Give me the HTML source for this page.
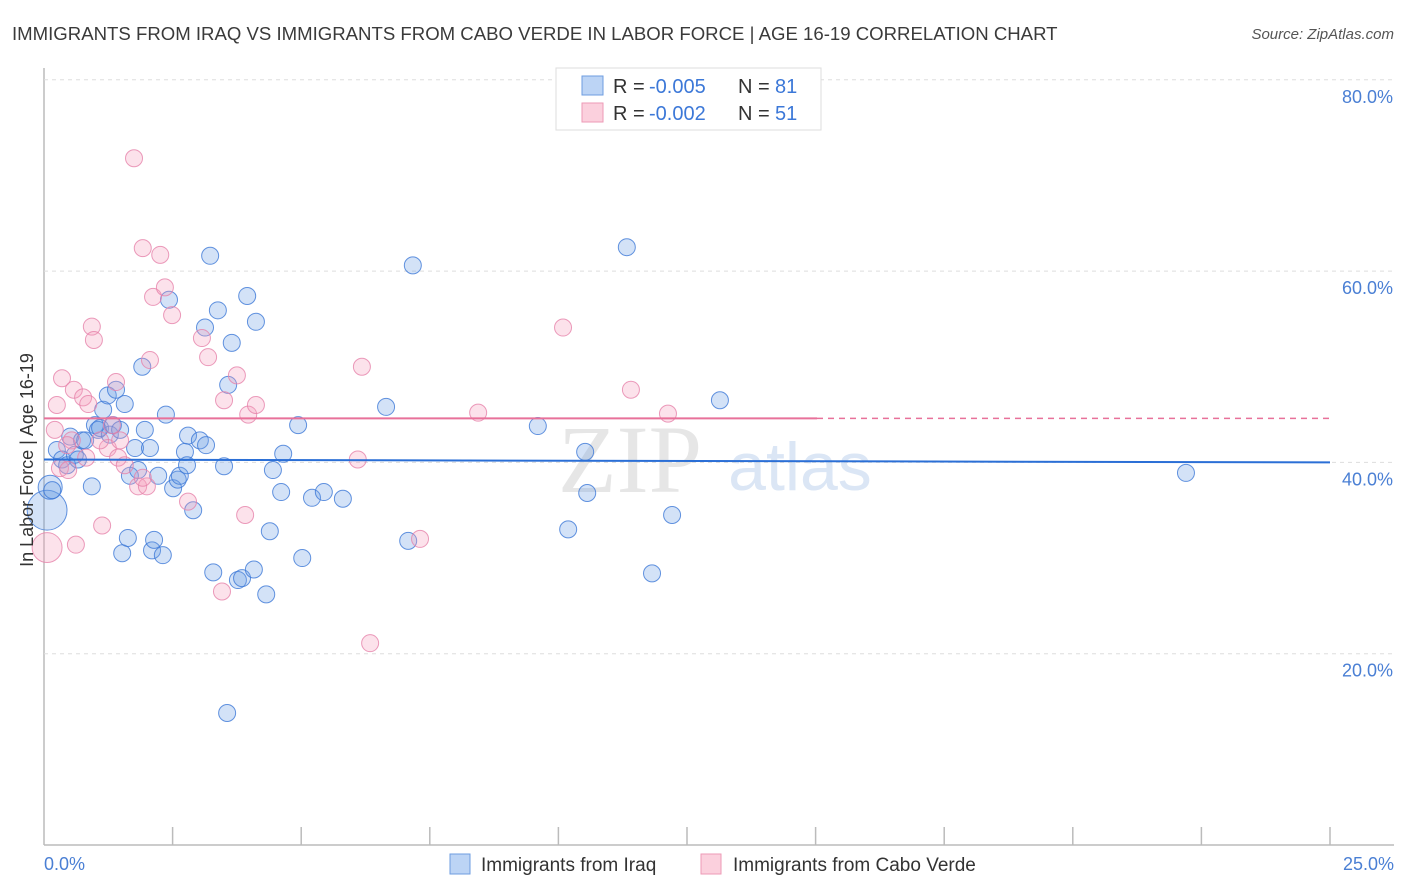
<!DOCTYPE html>
<html><head><meta charset="utf-8">
<style>
body{margin:0;background:#fff;font-family:"Liberation Sans",sans-serif;}
#wrap{position:relative;width:1406px;height:892px;overflow:hidden;}
</style></head>
<body>
<div id="wrap">
<svg id="svg" width="1406" height="892" xmlns="http://www.w3.org/2000/svg">
<text x="12" y="40" font-size="18.6" fill="#3a3a3a">IMMIGRANTS FROM IRAQ VS IMMIGRANTS FROM CABO VERDE IN LABOR FORCE | AGE 16-19 CORRELATION CHART</text>
<text x="1394" y="39" font-size="15" fill="#555" font-style="italic" text-anchor="end">Source: ZipAtlas.com</text>
<text x="630" y="492" font-size="96" fill="#e6e6e6" font-family="Liberation Serif" text-anchor="middle">ZIP</text>
<text x="800" y="490" font-size="68" fill="#dbe6f5" text-anchor="middle">atlas</text>
<g id="grid"></g>
<g id="marks"></g>
<text transform="translate(33,460) rotate(-90)" font-size="18" fill="#333" text-anchor="middle">In Labor Force | Age 16-19</text>
<text x="44" y="870" font-size="18" fill="#4a7fd4">0.0%</text>
<text x="1394" y="870" font-size="18" fill="#4a7fd4" text-anchor="end">25.0%</text>
<g>
<rect x="556" y="68" width="265" height="62" fill="#fff" stroke="#ddd"/>
<rect x="582" y="76" width="21" height="19" fill="#bcd4f5" stroke="#6e9de0"/>
<rect x="582" y="103" width="21" height="19" fill="#fbd0dd" stroke="#ec9ab6"/>
<text x="613" y="93" font-size="20" fill="#333">R =</text>
<text x="649" y="93" font-size="20" fill="#3c78d8">-0.005</text>
<text x="738" y="93" font-size="20" fill="#333">N =</text>
<text x="775" y="93" font-size="20" fill="#3c78d8">81</text>
<text x="613" y="120" font-size="20" fill="#333">R =</text>
<text x="649" y="120" font-size="20" fill="#3c78d8">-0.002</text>
<text x="738" y="120" font-size="20" fill="#333">N =</text>
<text x="775" y="120" font-size="20" fill="#3c78d8">51</text>
</g>
<g>
<rect x="450" y="854" width="20" height="20" fill="#bcd4f5" stroke="#6e9de0"/>
<text x="481" y="871" font-size="19" fill="#333">Immigrants from Iraq</text>
<rect x="701" y="854" width="20" height="20" fill="#fbd0dd" stroke="#ec9ab6"/>
<text x="733" y="871" font-size="19" fill="#333">Immigrants from Cabo Verde</text>
</g>
</svg>
</div>
<script>
const yTicks=[20,40,60,80];
const yTickLabels=["20.0%","40.0%","60.0%","80.0%"];
const iraqX=[0.06,0.12,0.16,0.25,0.35,0.45,0.51,0.60,0.66,0.74,0.80,0.93,0.99,1.05,1.09,1.15,1.24,1.28,1.34,1.40,1.48,1.52,1.57,1.63,1.67,1.77,1.83,1.91,1.96,2.06,2.10,2.14,2.22,2.31,2.37,2.43,2.51,2.60,2.64,2.74,2.78,2.80,2.90,3.03,3.15,3.13,3.23,3.29,3.38,3.50,3.58,3.65,3.56,3.77,3.85,3.95,4.08,4.12,4.32,4.39,4.45,4.61,4.65,4.94,5.02,5.21,5.44,5.81,6.65,7.08,7.17,9.60,10.19,10.52,10.56,11.33,11.82,12.21,13.14,22.20];
const iraqY=[35.0,37.4,37.1,41.3,40.3,39.7,42.7,40.8,40.3,42.3,42.3,37.5,43.9,43.4,43.6,45.5,47.0,42.9,43.9,47.6,43.4,30.5,46.1,32.1,38.6,41.5,39.2,50.0,43.4,41.5,30.8,31.9,38.6,30.3,45.0,57.0,37.3,38.2,38.6,41.1,39.7,42.8,35.0,42.3,41.8,54.1,61.6,28.5,55.9,39.6,48.1,52.5,13.8,27.7,27.9,57.4,28.8,54.7,26.2,32.8,39.2,36.9,40.9,43.9,30.0,36.3,36.9,36.2,45.8,31.8,60.6,43.8,33.0,41.1,36.8,62.5,28.4,34.5,46.5,38.9];
const iraqSize=[5.5,2];
const caboX=[0.06,0.21,0.25,0.31,0.35,0.47,0.54,0.58,0.76,0.82,0.86,0.93,0.97,1.13,1.24,1.32,1.40,1.44,1.57,1.75,1.83,1.92,2.00,2.06,2.12,2.26,2.35,2.49,2.80,3.07,3.19,3.46,3.50,3.75,3.91,3.97,4.12,6.10,6.18,6.34,7.31,8.44,10.09,11.41,12.13,0.62,0.45,1.09,1.48,1.92];
const caboY=[31.1,43.4,46.0,39.4,48.8,39.2,42.3,47.6,46.8,40.5,46.1,54.2,52.8,33.4,41.5,43.9,48.4,40.5,39.7,71.8,37.5,62.4,37.5,50.7,57.3,61.7,58.3,55.4,35.9,53.0,51.0,26.5,46.5,49.1,34.5,45.0,46.0,40.3,50.0,21.1,32.0,45.2,54.1,47.6,45.1,31.4,41.8,42.3,42.3,38.4];
const caboSize=[3.1];
const iraqTrend=[40.3,40.0];
const caboTrend=[44.6,44.6];

const X0=44,X1=1330,Y0=845,PX=191.3/20;
const sx=v=>X0+(v/25)*(X1-X0);
const sy=v=>Y0-v*PX;
const NS="http://www.w3.org/2000/svg";
const grid=document.getElementById('grid'),marks=document.getElementById('marks');
function mk(t,a,p){const e=document.createElementNS(NS,t);for(const k in a)e.setAttribute(k,a[k]);p.appendChild(e);return e;}

let l=mk('line',{x1:X0,x2:X0,y1:68,y2:Y0,stroke:'#bbb','stroke-width':1.5},grid);


l=mk('line',{x1:X0,x2:1394,y1:Y0,y2:Y0,stroke:'#bbb','stroke-width':1.5},grid);


for(let i=1;i<=10;i++){const x=X0+i*(X1-X0)/10;
 l=mk('line',{x1:x,x2:x,y1:Y0,y2:Y0-18,stroke:'#bbb','stroke-width':1.5},grid);
 
 }
yTicks.forEach((v,i)=>{
 const g=mk('line',{x1:X0,x2:1394,y1:sy(v),y2:sy(v),stroke:'#ddd','stroke-dasharray':'4,4'},grid);
 
 
 const t=mk('text',{x:1393,y:sy(v)+23,'font-size':18,fill:'#4a7fd4','text-anchor':'end'},grid);
 t.textContent=yTickLabels[i];
 
 
});
iraqX.forEach((x,i)=>{
 const r=8.5*Math.sqrt(iraqSize[i]||1);
 const c=mk('circle',{cx:sx(x),cy:sy(iraqY[i]),r:r,fill:'rgba(110,160,230,0.3)',stroke:'rgba(60,120,215,0.8)','stroke-width':1},marks);
 
 
});
caboX.forEach((x,i)=>{
 const r=8.5*Math.sqrt(caboSize[i]||1);
 const c=mk('circle',{cx:sx(x),cy:sy(caboY[i]),r:r,fill:'rgba(245,160,190,0.3)',stroke:'rgba(230,130,170,0.8)','stroke-width':1},marks);
 
 
});
l=mk('line',{x1:X0,x2:X1,y1:sy(iraqTrend[0]),y2:sy(iraqTrend[1]),stroke:'#2b6fd6','stroke-width':2},marks);


l=mk('line',{x1:X0,x2:817,y1:sy(caboTrend[0]),y2:sy(caboTrend[1]),stroke:'#e8719a','stroke-width':2},marks);


l=mk('line',{x1:817,x2:X1,y1:sy(caboTrend[0]),y2:sy(caboTrend[1]),stroke:'#e8719a','stroke-width':1.5,'stroke-dasharray':'6,5'},marks);


</script>
</body></html>
